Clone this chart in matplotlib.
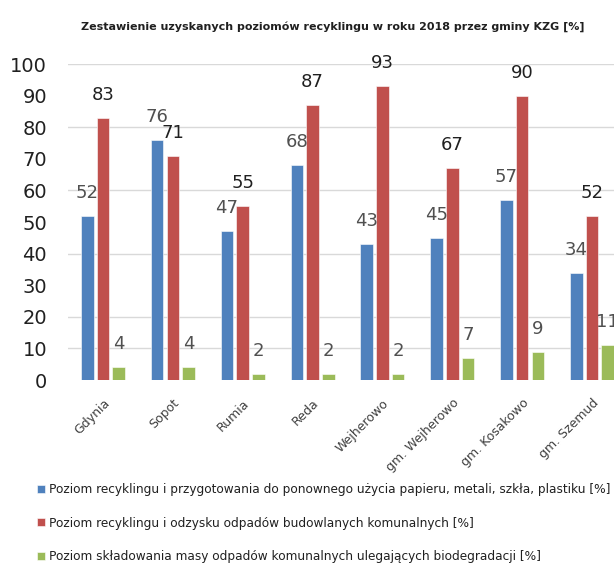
import matplotlib
matplotlib.use("Agg")
import matplotlib.pyplot as plt
import numpy as np

categories = ["Gdynia", "Sopot", "Rumia", "Reda", "Wejherowo",
              "gm. Wejherowo", "gm. Kosakowo", "gm. Szemud"]
recykling_surowce = [52, 76, 47, 68, 43, 45, 57, 34]
recykling_budowlane = [83, 71, 55, 87, 93, 67, 90, 52]
skladowanie_bio = [4, 4, 2, 2, 2, 7, 9, 11]
series_names = [
    "Poziom recyklingu i przygotowania do ponownego użycia papieru, metali, szkła, plastiku [%]",
    "Poziom recyklingu i odzysku odpadów budowlanych komunalnych [%]",
    "Poziom składowania masy odpadów komunalnych ulegających biodegradacji [%]",
]
title = "Zestawienie uzyskanych poziomów recyklingu w roku 2018 przez gminy KZG [%]"
yticks = list(range(0, 101, 10))

colors = ["#4F81BD", "#C0504D", "#9BBB59"]
label_colors = ["#505050", "#202020", "#505050"]

W, H = 614, 564
fig = plt.figure(figsize=(W / 100, H / 100), dpi=100)
ax = fig.add_axes([68 / W, 1 - 380 / H, 559 / W, (380 - 64) / H])

x = np.arange(len(categories))
offsets = [-0.225, 0.0, 0.225]
width = 0.18
all_series = [recykling_surowce, recykling_budowlane, skladowanie_bio]
handles = []
for s, (vals, off, col, lc) in enumerate(zip(all_series, offsets, colors, label_colors)):
    bars = ax.bar(x + off, vals, width, color=col, edgecolor="white", linewidth=0.4,
                  zorder=3, label=series_names[s])
    handles.append(bars)
    for xi, v in zip(x + off, vals):
        ax.annotate(str(v), (xi, v), xytext=(0, 14), textcoords="offset pixels",
                    ha="center", va="bottom", fontsize=13, color=lc, zorder=4)

for g in [10, 20, 40, 60, 80, 100]:
    ax.axhline(g, color="#D9D9D9", linewidth=1.0, zorder=1)

ax.set_xlim(-0.5, len(categories) - 0.5)
ax.set_ylim(0, 100)
ax.set_yticks(yticks)
ax.set_yticklabels([str(t) for t in yticks], fontsize=14, color="#202020")
ax.set_xticks(x)
ax.set_xticklabels(categories, rotation=45, ha="right", rotation_mode="anchor",
                   fontsize=9, color="#404040")
ax.tick_params(axis="y", length=0, pad=15)
ax.tick_params(axis="x", length=0, pad=12)
for sp in ax.spines.values():
    sp.set_visible(False)

fig.text((78 + 587) / 2 / W, 1 - 27 / H, title, ha="center", va="center",
         fontsize=8, fontweight="bold", color="#202020")

fig.legend(handles=handles, labels=series_names, loc="upper left",
           bbox_to_anchor=(37 / W, 1 - 483 / H), frameon=False, fontsize=8.75,
           handlelength=0.65, handleheight=0.65, handletextpad=0.3,
           labelspacing=1.7, borderpad=0, borderaxespad=0, labelcolor="#202020")

fig.savefig("out.png", dpi=100)
